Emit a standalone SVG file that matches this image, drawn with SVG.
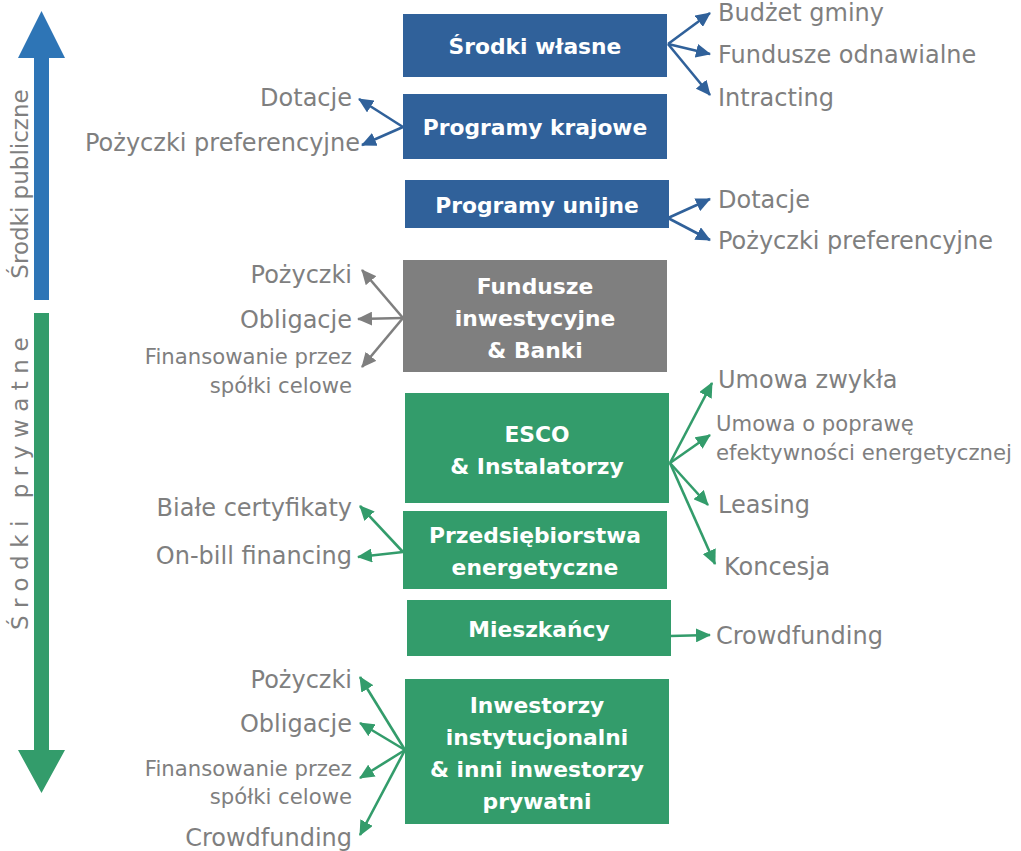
<svg xmlns="http://www.w3.org/2000/svg" width="1021" height="851" viewBox="0 0 1021 851">
<style>
.bt{font-family:"DejaVu Sans",Verdana,sans-serif;font-weight:bold;font-size:21.8px;fill:#fff;text-anchor:middle}
.lb{font-family:"DejaVu Sans",Verdana,sans-serif;font-size:24px;fill:#7f7f7f}
.sm{font-family:"DejaVu Sans",Verdana,sans-serif;font-size:21.2px;fill:#7f7f7f}
.r{text-anchor:end}
.blue{fill:#30619a}
.gray{fill:#7f7f7f}
.green{fill:#339c6b}
.cb{stroke:#30619a;stroke-width:2.6;fill:none;marker-end:url(#ab)}
.cg{stroke:#7f7f7f;stroke-width:2.6;fill:none;marker-end:url(#ag)}
.cn{stroke:#339c6b;stroke-width:2.6;fill:none;marker-end:url(#an)}
</style>
<defs>
<marker id="ab" markerUnits="userSpaceOnUse" markerWidth="16" markerHeight="14" refX="14" refY="7" orient="auto"><path d="M0,0 L15,7 L0,14 z" fill="#30619a"/></marker>
<marker id="ag" markerUnits="userSpaceOnUse" markerWidth="16" markerHeight="14" refX="14" refY="7" orient="auto"><path d="M0,0 L15,7 L0,14 z" fill="#7f7f7f"/></marker>
<marker id="an" markerUnits="userSpaceOnUse" markerWidth="16" markerHeight="14" refX="14" refY="7" orient="auto"><path d="M0,0 L15,7 L0,14 z" fill="#339c6b"/></marker>
</defs>
<rect width="1021" height="851" fill="#fff"/>

<g id="axis-public">
<polygon points="34,300 34,58 18,58 41.5,11 65,58 49,58 49,300" fill="#2e75b6"/>
<text class="lb" style="font-size:23px" transform="translate(28,184) rotate(-90)" text-anchor="middle">Środki publiczne</text>
</g>
<g id="axis-private">
<polygon points="34,313 34,750 18,750 41.5,793 65,750 49,750 49,313" fill="#339c6b"/>
<text class="lb" style="font-size:23px;letter-spacing:7.5px" transform="translate(28,480) rotate(-90)" text-anchor="middle">Środki prywatne</text>
</g>

<g id="connectors">
<line class="cb" x1="668" y1="44" x2="710" y2="13"/>
<line class="cb" x1="668" y1="44" x2="710" y2="54"/>
<line class="cb" x1="668" y1="44" x2="710" y2="95"/>
<line class="cb" x1="403" y1="127" x2="359" y2="99"/>
<line class="cb" x1="403" y1="127" x2="362" y2="145"/>
<line class="cb" x1="668" y1="218" x2="710" y2="199"/>
<line class="cb" x1="668" y1="218" x2="710" y2="240"/>
<line class="cg" x1="403" y1="318" x2="362" y2="270"/>
<line class="cg" x1="403" y1="318" x2="358" y2="319"/>
<line class="cg" x1="403" y1="318" x2="362" y2="367"/>
<line class="cn" x1="670" y1="463" x2="712" y2="383"/>
<line class="cn" x1="670" y1="463" x2="710" y2="435"/>
<line class="cn" x1="670" y1="463" x2="708" y2="505"/>
<line class="cn" x1="670" y1="463" x2="715" y2="564"/>
<line class="cn" x1="670" y1="636" x2="710" y2="635"/>
<line class="cn" x1="403" y1="552" x2="360" y2="506"/>
<line class="cn" x1="403" y1="552" x2="358" y2="557"/>
<line class="cn" x1="405" y1="750" x2="360" y2="677"/>
<line class="cn" x1="405" y1="750" x2="360" y2="723"/>
<line class="cn" x1="405" y1="750" x2="360" y2="778"/>
<line class="cn" x1="405" y1="750" x2="360" y2="835"/>
</g>

<g id="srodki-wlasne">
<rect class="blue" x="403" y="14" width="264" height="63"/>
<text class="bt" x="535" y="54">Środki własne</text>
<text class="lb" x="718" y="21">Budżet gminy</text>
<text class="lb" x="718" y="63">Fundusze odnawialne</text>
<text class="lb" x="718" y="106">Intracting</text>
</g>
<g id="programy-krajowe">
<rect class="blue" x="403" y="94" width="264" height="65"/>
<text class="bt" x="535" y="135">Programy krajowe</text>
<text class="lb r" x="352" y="106">Dotacje</text>
<text class="lb r" x="360" y="151">Pożyczki preferencyjne</text>
</g>
<g id="programy-unijne">
<rect class="blue" x="405" y="180" width="264" height="48"/>
<text class="bt" x="537" y="213">Programy unijne</text>
<text class="lb" x="718" y="208">Dotacje</text>
<text class="lb" x="718" y="249">Pożyczki preferencyjne</text>
</g>
<g id="fundusze">
<rect class="gray" x="403" y="260" width="264" height="112"/>
<text class="bt" x="535" y="294">Fundusze</text>
<text class="bt" x="535" y="326">inwestycyjne</text>
<text class="bt" x="535" y="358">&amp; Banki</text>
<text class="lb r" x="352" y="283">Pożyczki</text>
<text class="lb r" x="352" y="328">Obligacje</text>
<text class="sm r" x="352" y="364">Finansowanie przez</text>
<text class="sm r" x="352" y="393">spółki celowe</text>
</g>
<g id="esco">
<rect class="green" x="405" y="393" width="264" height="110"/>
<text class="bt" x="537" y="442">ESCO</text>
<text class="bt" x="537" y="474">&amp; Instalatorzy</text>
<text class="lb" x="718" y="388">Umowa zwykła</text>
<text class="sm" x="716" y="431">Umowa o poprawę</text>
<text class="sm" x="716" y="460">efektywności energetycznej</text>
<text class="lb" x="718" y="513">Leasing</text>
<text class="lb" x="724" y="575">Koncesja</text>
</g>
<g id="przedsiebiorstwa">
<rect class="green" x="403" y="511" width="264" height="78"/>
<text class="bt" x="535" y="543">Przedsiębiorstwa</text>
<text class="bt" x="535" y="575">energetyczne</text>
<text class="lb r" x="352" y="516">Białe certyfikaty</text>
<text class="lb r" x="352" y="564">On-bill financing</text>
</g>
<g id="mieszkancy">
<rect class="green" x="407" y="600" width="264" height="56"/>
<text class="bt" x="539" y="637">Mieszkańcy</text>
<text class="lb" x="716" y="644">Crowdfunding</text>
</g>
<g id="inwestorzy">
<rect class="green" x="405" y="679" width="264" height="145"/>
<text class="bt" x="537" y="713">Inwestorzy</text>
<text class="bt" x="537" y="745">instytucjonalni</text>
<text class="bt" x="537" y="777">&amp; inni inwestorzy</text>
<text class="bt" x="537" y="809">prywatni</text>
<text class="lb r" x="352" y="688">Pożyczki</text>
<text class="lb r" x="352" y="732">Obligacje</text>
<text class="sm r" x="352" y="776">Finansowanie przez</text>
<text class="sm r" x="352" y="804">spółki celowe</text>
<text class="lb r" x="352" y="846">Crowdfunding</text>
</g>
</svg>
